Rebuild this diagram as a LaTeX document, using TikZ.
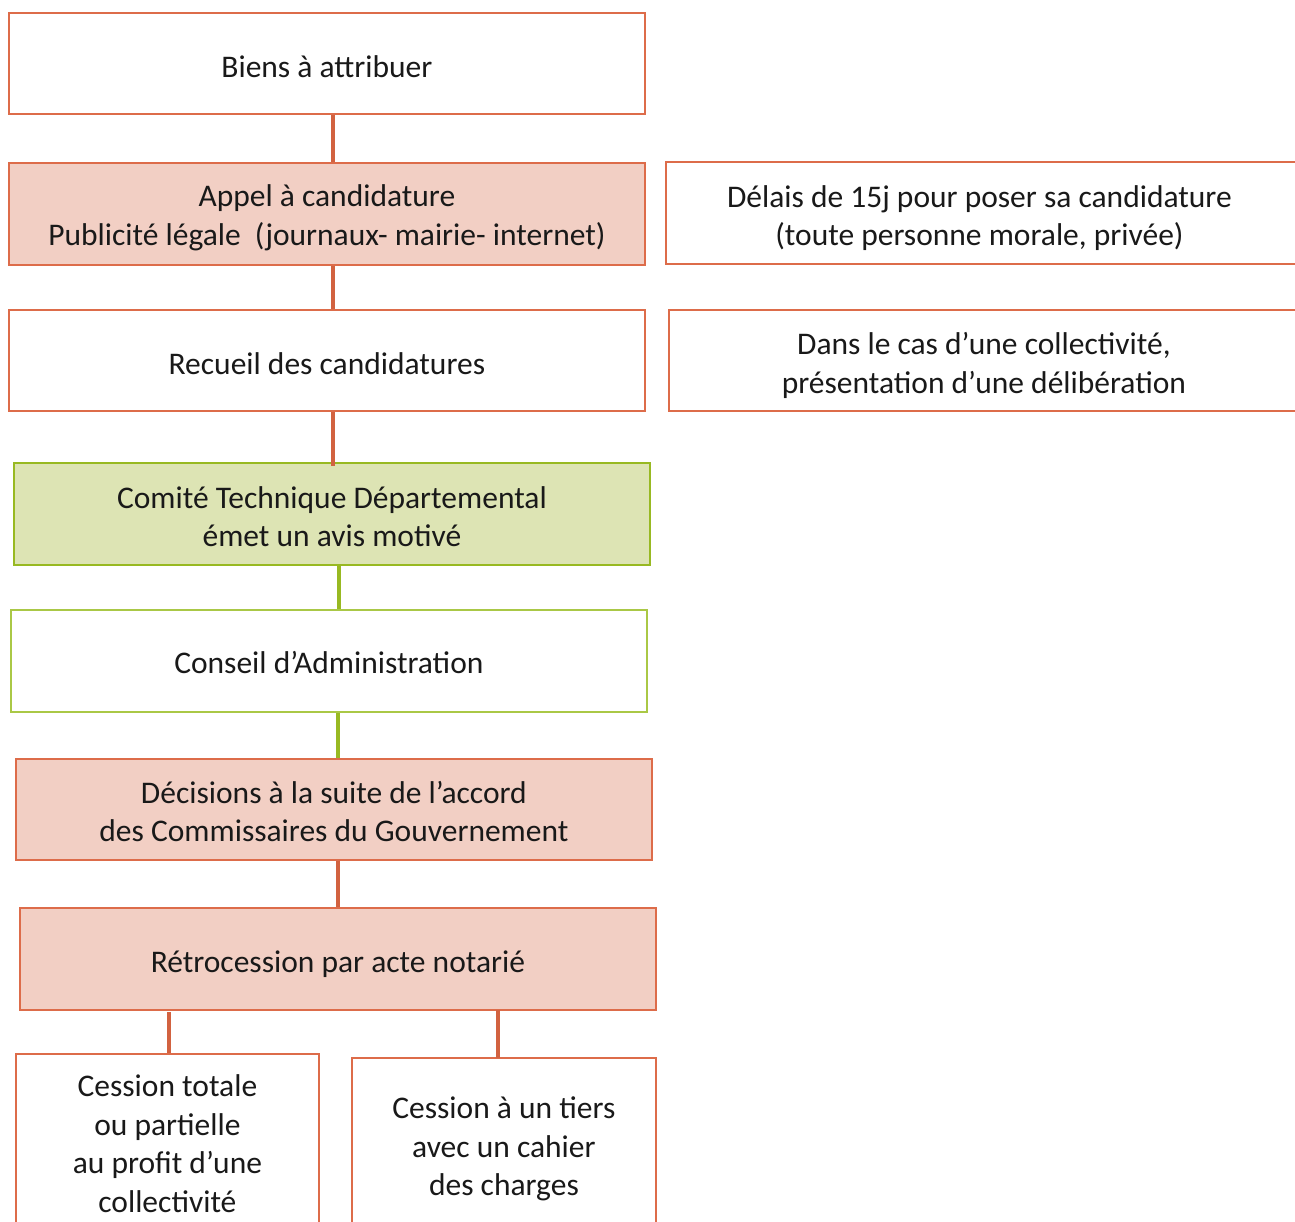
\documentclass[tikz,border=0pt]{standalone}
\usepackage{fontspec}
\setmainfont{Carlito}
\definecolor{orng}{RGB}{221,108,74}
\definecolor{orngline}{RGB}{210,98,64}
\definecolor{pinkfill}{RGB}{242,207,196}
\definecolor{grnfill}{RGB}{221,228,180}
\definecolor{grnline}{RGB}{152,185,34}
\definecolor{grnlight}{RGB}{170,200,70}
\begin{document}
\begin{tikzpicture}[x=1pt,y=-1pt,
  txt/.style={font=\fontsize{31.5}{38.5}\selectfont, align=center, text=black!90, inner sep=0pt},
  boxo/.style={draw=orng, line width=1.8pt, fill=white, anchor=north west, inner sep=0pt},
  boxp/.style={boxo, fill=pinkfill},
  boxg/.style={draw=grnline, line width=1.8pt, fill=grnfill, anchor=north west, inner sep=0pt},
  boxgw/.style={draw=grnlight, line width=1.8pt, fill=white, anchor=north west, inner sep=0pt},
  linko/.style={draw=orngline, line width=4.5pt},
  linkg/.style={draw=grnline, line width=4.5pt}]
\useasboundingbox[fill=white] (0,0) rectangle (1295,1222);

\node[boxo, minimum width=636pt, minimum height=101pt,
  label={[txt,yshift=-3pt]center:Biens à attribuer}] (b1) at (8,12) {};
\node[boxp, minimum width=636pt, minimum height=102pt,
  label={[txt,yshift=-4pt]center:Appel à candidature\\Publicité légale\ \ (journaux- mairie- internet)}] (b2) at (8,162) {};
\node[boxo, minimum width=636pt, minimum height=101pt,
  label={[txt,yshift=-3pt]center:Recueil des candidatures}] (b3) at (8,309) {};
\node[boxg, minimum width=636pt, minimum height=102pt,
  label={[txt,yshift=-3pt]center:Comité Technique Départemental\\émet un avis motivé}] (b4) at (13,462) {};
\node[boxgw, minimum width=636pt, minimum height=102pt,
  label={[txt,yshift=-2pt]center:Conseil d’Administration}] (b5) at (10,609) {};
\node[boxp, minimum width=636pt, minimum height=101pt,
  label={[txt,yshift=-2pt]center:Décisions à la suite de l’accord\\des Commissaires du Gouvernement}] (b6) at (15,758) {};
\node[boxp, minimum width=636pt, minimum height=102pt,
  label={[txt,yshift=-5pt]center:Rétrocession par acte notarié}] (b7) at (19,907) {};

\node[boxo, minimum width=636pt, minimum height=102pt,
  label={[txt,yshift=-5pt,xshift=-4.5pt]center:Délais de 15j pour poser sa candidature\\(toute personne morale, privée)}] (r1) at (665,161) {};
\node[boxo, minimum width=630pt, minimum height=101pt,
  label={[txt,yshift=-5pt]center:Dans le cas d’une collectivité,\\présentation d’une délibération}] (r2) at (668,309) {};

\node[boxo, minimum width=303pt, minimum height=180pt,
  label={[txt,yshift=0pt]center:Cession totale\\ou partielle\\au profit d’une\\collectivité}] (c1) at (15,1053) {};
\node[boxo, minimum width=304pt, minimum height=178pt,
  label={[txt,yshift=-2pt]center:Cession à un tiers\\avec un cahier\\des charges}] (c2) at (351,1057) {};

\draw[linko] ([xshift=6pt]b1.south) -- ([xshift=6pt]b2.north);
\draw[linko] ([xshift=6pt]b2.south) -- ([xshift=6pt]b3.north);
\draw[linko] ([xshift=6pt]b3.south) -- ([xshift=1pt,yshift=-4pt]b4.north);
\draw[linkg] ([xshift=7pt]b4.south) -- ([xshift=10pt]b5.north);
\draw[linkg] ([xshift=9pt]b5.south) -- ([xshift=4pt]b6.north);
\draw[linko] ([xshift=4pt]b6.south) -- ([xshift=0pt]b7.north);
\draw[linko] (169,1012) coordinate (s1) -- (c1.north -| s1);
\draw[linko] (498,1010) coordinate (s2) -- ([yshift=-1pt]c2.north -| s2);
\end{tikzpicture}
\end{document}
